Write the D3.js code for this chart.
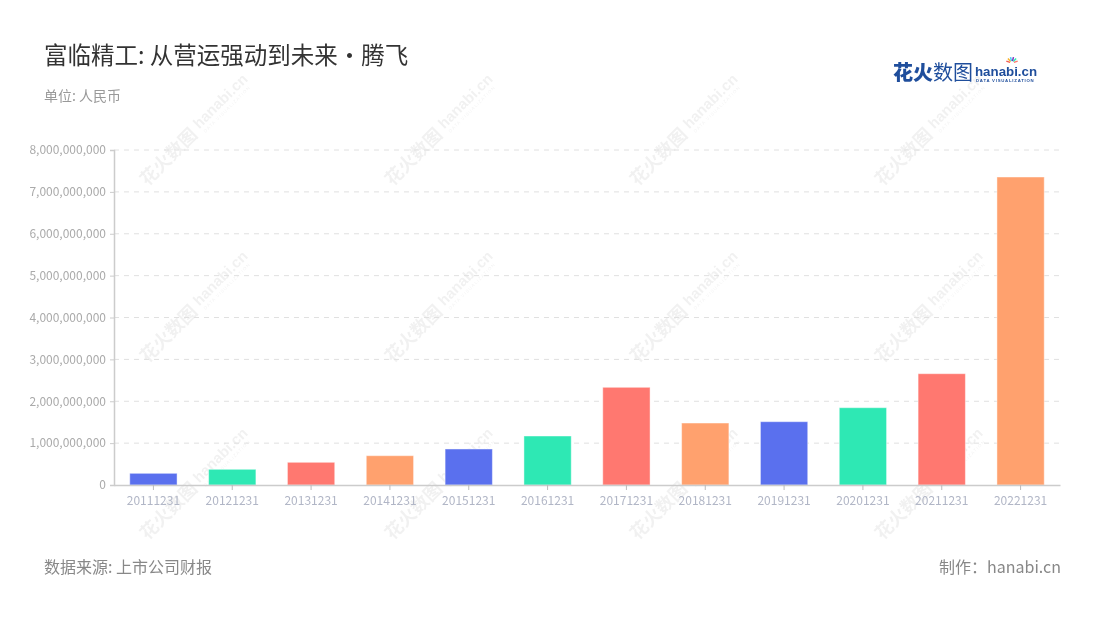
<!DOCTYPE html>
<html><head><meta charset="utf-8">
<script src="https://cdn.jsdelivr.net/npm/d3@7/dist/d3.min.js"></script>
<style>
body{margin:0;background:#fff;}
svg{display:block;font-family:"Noto Sans CJK SC","Noto Sans",sans-serif;}
</style></head>
<body><svg id="c" width="1100" height="620"></svg>
<script>
const categories = ["20111231","20121231","20131231","20141231","20151231","20161231","20171231","20181231","20191231","20201231","20211231","20221231"];
const values = [279000000,375000000,542000000,700000000,860000000,1170000000,2333000000,1480000000,1512000000,1846000000,2658000000,7355000000];
const colors = ["#5a70ee","#2ee8b4","#ff7870","#ffa16e"];
const yTicks = [0,1e9,2e9,3e9,4e9,5e9,6e9,7e9,8e9];

const svg = d3.select("#c");
const W = 1100, H = 620;
const m = {l:114, r:40, t:150, b:135};
const x = d3.scaleBand().domain(categories).range([m.l, W - m.r]).paddingInner(0.4).paddingOuter(0.2);
const y = d3.scaleLinear().domain([0, 8e9]).range([H - m.b, m.t]);

// watermarks
const wm = svg.append("g").attr("fill","#000").attr("opacity",0.055);
[195,440,685,930].forEach(cx=>{
  [128,305,482].forEach(cy=>{
    const g = wm.append("g").attr("transform",`translate(${cx},${cy}) rotate(-45)`);
    g.append("text").attr("x",-3).attr("y",8).attr("text-anchor","end").attr("font-size",18).attr("font-weight",700).text("花火数图");
    g.append("text").attr("x",2).attr("y",4).attr("font-size",15).attr("font-weight",700).attr("font-family","Arial, sans-serif").text("hanabi.cn");
    g.append("text").attr("x",4).attr("y",11).attr("font-size",4.5).attr("font-family","Arial, sans-serif").attr("letter-spacing",1).text("DATA VISUALIZATION");
  });
});

// grid
svg.append("g").selectAll("line").data(yTicks.slice(1)).join("line")
  .attr("x1", m.l).attr("x2", W - m.r)
  .attr("y1", d=>y(d)).attr("y2", d=>y(d))
  .attr("stroke","#e0e0e0").attr("stroke-dasharray","5,5");

// bars
svg.append("g").selectAll("rect").data(values).join("rect")
  .attr("x",(d,i)=>x(categories[i]))
  .attr("width",x.bandwidth())
  .attr("y",d=>y(d))
  .attr("height",d=>y(0)-y(d))
  .attr("fill",(d,i)=>colors[i%4])
  .attr("stroke","rgba(255,255,255,0.45)").attr("stroke-width",1);

// y axis
const ya = svg.append("g").attr("transform",`translate(${m.l},0)`)
  .call(d3.axisLeft(y).tickValues(yTicks).tickSize(4).tickPadding(4).tickFormat(d3.format(",")));
ya.select(".domain").attr("stroke","#ccc").attr("stroke-width",1.5);
ya.selectAll(".tick line").attr("stroke","#ccc");
ya.selectAll("text").attr("fill","#aaa").attr("font-size",12).attr("font-family","'Noto Sans CJK SC','Noto Sans',sans-serif");

// x axis
const xa = svg.append("g").attr("transform",`translate(0,${y(0)})`)
  .call(d3.axisBottom(x).tickSize(5).tickSizeOuter(0).tickPadding(6));
xa.select(".domain").attr("stroke","#ccc").attr("stroke-width",1.5);
xa.selectAll(".tick line").attr("stroke","#bbb");
xa.selectAll("text").attr("fill","#b1b6c6").attr("font-size",12).attr("font-family","'Noto Sans CJK SC','Noto Sans',sans-serif");

// titles
svg.append("text").attr("x",44).attr("y",64).attr("font-size",23.5).attr("fill","#333").text("富临精工: 从营运强动到未来·腾飞");
svg.append("text").attr("x",44).attr("y",101).attr("font-size",14).attr("fill","#999").text("单位: 人民币");
svg.append("text").attr("x",44).attr("y",573).attr("font-size",16).attr("fill","#888").text("数据来源: 上市公司财报");
svg.append("text").attr("x",1061).attr("y",573).attr("text-anchor","end").attr("font-size",16).attr("fill","#888").text("制作：hanabi.cn");

// logo
const lg = svg.append("g").attr("transform","translate(893,80)");
lg.append("text").attr("x",0).attr("y",0).attr("font-size",20).attr("font-weight",900).attr("fill","#1f4e9c").text("花火");
lg.append("text").attr("x",40).attr("y",0).attr("font-size",20).attr("fill","#1f4e9c").text("数图");
lg.append("text").attr("x",82).attr("y",-4).attr("font-size",13.3).attr("font-weight",700).attr("font-family","Arial, sans-serif").attr("fill","#1f4e9c").text("hanabi.cn");
lg.append("text").attr("x",83).attr("y",2).attr("font-size",4.3).attr("font-weight",700).attr("letter-spacing",0.75).attr("font-family","Arial, sans-serif").attr("fill","#1f4e9c").text("DATA VISUALIZATION");
const sp = ["#f25c54","#f7b32b","#4cc9f0","#7b2cbf","#2ee8b4","#ff7870"];
sp.forEach((c,i)=>{
  const a = -Math.PI/2 + (i-2.5)*0.5;
  lg.append("line").attr("x1",119+Math.cos(a)*2).attr("y1",-17+Math.sin(a)*2)
    .attr("x2",119+Math.cos(a)*6).attr("y2",-17+Math.sin(a)*6).attr("stroke",c).attr("stroke-width",1.5);
});
</script></body></html>
